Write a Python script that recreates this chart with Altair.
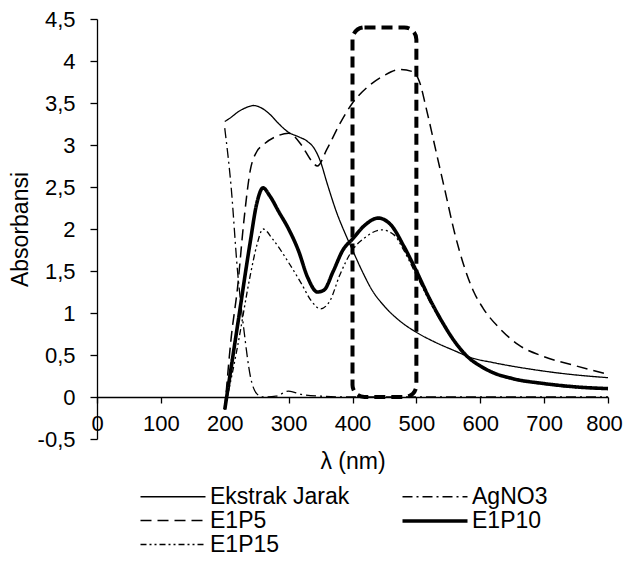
import altair as alt
import pandas as pd

# ---- data ----
series_order = ["Ekstrak Jarak", "AgNO3", "E1P5", "E1P10", "E1P15"]

ekstrak_nm = [200, 210, 220, 235, 245, 255, 270, 285, 300, 315, 330, 340, 350, 360, 375, 390, 400, 415, 430, 450, 475, 500, 530, 560, 585, 620, 680, 740, 800]
ekstrak_abs = [3.28, 3.33, 3.39, 3.45, 3.47, 3.45, 3.37, 3.25, 3.15, 3.10, 3.04, 2.96, 2.80, 2.55, 2.20, 1.92, 1.75, 1.50, 1.28, 1.08, 0.90, 0.77, 0.65, 0.55, 0.47, 0.41, 0.33, 0.27, 0.23]

agno3_nm = [200, 210, 220, 230, 240, 250, 260, 280, 300, 320, 350, 400, 500, 600, 700, 800]
agno3_abs = [3.20, 2.50, 1.50, 0.80, 0.25, 0.04, 0.00, 0.01, 0.07, 0.03, 0.01, 0.00, 0.00, 0.00, 0.00, 0.00]

e1p5_nm = [200, 210, 220, 230, 240, 250, 260, 280, 300, 320, 335, 345, 360, 380, 400, 425, 450, 475, 495, 505, 515, 530, 545, 560, 575, 590, 605, 630, 660, 700, 750, 800]
e1p5_abs = [-0.15, 0.70, 1.30, 2.10, 2.70, 2.92, 3.00, 3.10, 3.14, 3.00, 2.82, 2.75, 2.95, 3.25, 3.50, 3.70, 3.83, 3.90, 3.87, 3.75, 3.45, 2.95, 2.45, 1.95, 1.55, 1.25, 1.05, 0.82, 0.62, 0.48, 0.37, 0.27]

e1p10_nm = [200, 220, 240, 250, 260, 270, 285, 300, 315, 330, 345, 355, 370, 385, 400, 420, 440, 460, 480, 500, 520, 540, 560, 580, 600, 620, 650, 700, 750, 800]
e1p10_abs = [-0.15, 0.85, 1.85, 2.30, 2.49, 2.40, 2.20, 2.00, 1.75, 1.42, 1.25, 1.27, 1.50, 1.75, 1.88, 2.05, 2.13, 2.05, 1.80, 1.50, 1.18, 0.90, 0.66, 0.48, 0.37, 0.29, 0.22, 0.16, 0.12, 0.10]

e1p15_nm = [200, 220, 240, 250, 260, 275, 300, 320, 335, 350, 365, 380, 400, 420, 445, 465, 480, 500, 520, 540, 560, 580, 600, 620, 650, 700, 750, 800]
e1p15_abs = [-0.15, 0.60, 1.45, 1.80, 2.00, 1.88, 1.60, 1.35, 1.15, 1.05, 1.15, 1.45, 1.75, 1.90, 1.99, 1.93, 1.75, 1.45, 1.15, 0.88, 0.65, 0.47, 0.36, 0.28, 0.21, 0.15, 0.11, 0.09]

# highlighted band (dashed rounded box)
box_x = [400]
box_x2 = [500]
box_y = [0.0]
box_y2 = [4.4]

x_ticks = [0, 100, 200, 300, 400, 500, 600, 700, 800]
y_ticks = [-0.5, 0, 0.5, 1, 1.5, 2, 2.5, 3, 3.5, 4, 4.5]

rows = []
for name, xs, ys in [
    ("Ekstrak Jarak", ekstrak_nm, ekstrak_abs),
    ("AgNO3", agno3_nm, agno3_abs),
    ("E1P5", e1p5_nm, e1p5_abs),
    ("E1P10", e1p10_nm, e1p10_abs),
    ("E1P15", e1p15_nm, e1p15_abs),
]:
    for a, b in zip(xs, ys):
        rows.append({"series": name, "nm": a, "abs": b})
df = pd.DataFrame(rows)
box_df = pd.DataFrame({"x": box_x, "x2": box_x2, "y": box_y, "y2": box_y2})

FONT = "Liberation Sans"

xscale = alt.Scale(domain=[0, 800], nice=False, zero=False)
yscale = alt.Scale(domain=[-0.5, 4.5], nice=False, zero=False)

legend = alt.Legend(
    title=None, orient="none", legendX=64, legendY=466,
    direction="horizontal", columns=2, columnPadding=45, rowPadding=-2,
    symbolType="M-3.25,0H3.25", symbolSize=400, symbolStrokeColor="black",
    labelFontSize=23, labelFont=FONT, labelColor="black", labelOffset=25,
    labelLimit=300, padding=0,
)

lines = alt.Chart(df).mark_line(interpolate="monotone", color="black").encode(
    x=alt.X("nm:Q", scale=xscale, title="λ (nm)",
            axis=alt.Axis(values=x_ticks, offset=-42, grid=False, tickSize=6,
                          labelPadding=10, titlePadding=16, labelFlush=False,
                          labelOffset={"condition": {"test": "datum.value == 800", "value": -4}, "value": 0})),
    y=alt.Y("abs:Q", scale=yscale, title="Absorbansi",
            axis=alt.Axis(values=y_ticks, grid=False, tickSize=7, labelPadding=15,
                          labelExpr="replace(toString(datum.value), '.', ',')",
                          titlePadding=5)),
    strokeDash=alt.StrokeDash("series:N",
        scale=alt.Scale(domain=series_order,
                        range=[[1, 0], [10, 4, 2, 4], [11, 6], [1, 0], [6, 3, 2, 3, 2, 3]]),
        legend=legend),
    strokeWidth=alt.StrokeWidth("series:N",
        scale=alt.Scale(type="ordinal", domain=series_order, range=[1.3, 1.3, 1.5, 3.6, 1.3]),
        legend=legend),
    order=alt.Order("nm:Q"),
)

box = alt.Chart(box_df).mark_rect(filled=False, stroke="black", strokeWidth=4,
                                  strokeDash=[11, 6], cornerRadius=12).encode(
    x="x:Q", x2="x2:Q", y="y:Q", y2="y2:Q"
)

chart = alt.layer(lines, box).properties(
    width=511, height=420,
    autosize=alt.AutoSizeParams(type="none"),
    padding={"left": 89, "top": 11, "right": 15, "bottom": 116},
).configure_view(stroke=None).configure_axis(
    domainColor="black", tickColor="black", domainWidth=1.3, tickWidth=1.3,
    labelColor="black", titleColor="black", labelFont=FONT, titleFont=FONT,
    labelFontSize=22, titleFontSize=23, titleFontWeight="normal",
)

chart.save("out.html", embed_options={"renderer": "svg", "actions": False})
